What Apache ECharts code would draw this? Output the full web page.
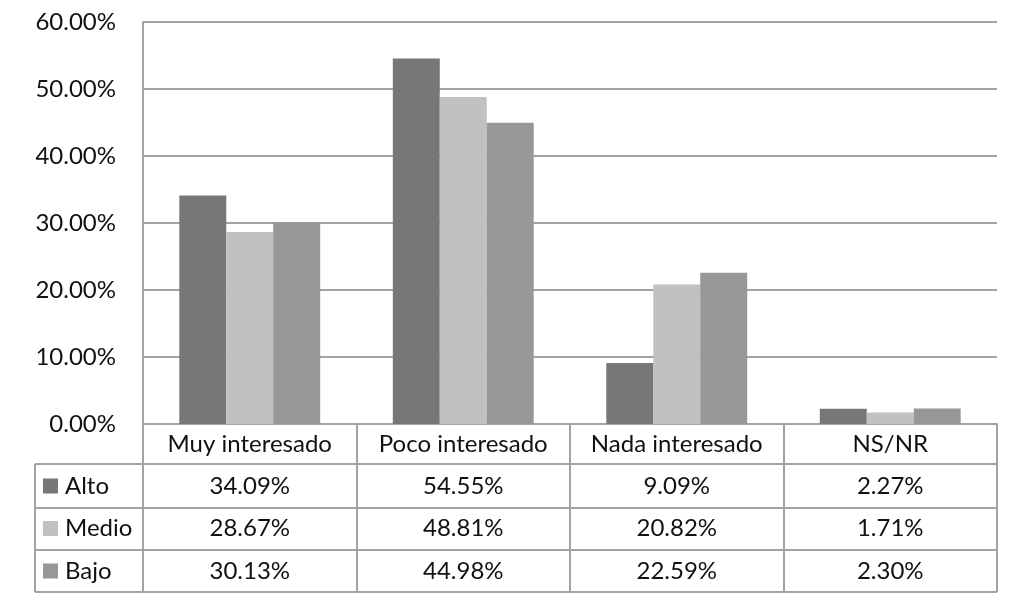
<!DOCTYPE html>
<html><head><meta charset="utf-8">
<script src="https://cdn.jsdelivr.net/npm/echarts@6/dist/echarts.min.js"></script>
<style>html,body{margin:0;padding:0;background:#fff}#c{width:1011px;height:598px}</style>
</head><body><div id="c"></div>
<script>
const categories = ['Muy interesado', 'Poco interesado', 'Nada interesado', 'NS/NR'];
const seriesNames = ['Alto', 'Medio', 'Bajo'];
const alto = [34.09, 54.55, 9.09, 2.27];
const medio = [28.67, 48.81, 20.82, 1.71];
const bajo = [30.13, 44.98, 22.59, 2.30];
const yTicks = [0, 10, 20, 30, 40, 50, 60];
const colors = ['#777777', '#c1c1c1', '#979797'];

const FONT = 'Lato';
const FS = 24;
const GL = 143, GR = 997, GT = 22, G0 = 424;
const rowLines = [464, 508, 550, 592];
const lineColor = '#a3a3a3';
const allData = [alto, medio, bajo];
const fmt = v => v.toFixed(2) + '%';

const chart = echarts.init(document.getElementById('c'), null, {renderer: 'canvas'});
const offsets = [42, 84.5, 127];
const labelStyle = {fontFamily: FONT, fontSize: FS, color: '#111', margin: 8, lineHeight: FS, interval: 0, hideOverlap: false};
const xAxes = [{
  type: 'category', data: categories, position: 'bottom', gridIndex: 0,
  axisLine: {show: true, lineStyle: {color: lineColor, width: 2}},
  axisTick: {show: true, interval: 0, length: 168, lineStyle: {color: lineColor, width: 2}},
  axisLabel: labelStyle
}];
allData.forEach((d, i) => {
  xAxes.push({
    type: 'category', data: d.map(fmt), position: 'bottom', offset: offsets[i], gridIndex: 0,
    axisLine: {show: false}, axisTick: {show: false},
    axisLabel: labelStyle
  });
});

const graphics = [];
rowLines.forEach(y => graphics.push({type: 'line', shape: {x1: 35, y1: y, x2: GR, y2: y}, style: {stroke: lineColor, lineWidth: 2}}));
graphics.push({type: 'line', shape: {x1: 35, y1: rowLines[0], x2: 35, y2: rowLines[3]}, style: {stroke: lineColor, lineWidth: 2}});

chart.setOption({
  animation: false,
  grid: {left: GL, right: 1011 - GR, top: GT, bottom: 598 - G0, containLabel: false},
  legend: {
    data: seriesNames, orient: 'vertical', left: 43, top: 474, icon: 'rect',
    itemWidth: 15, itemHeight: 15, itemGap: 18.5, padding: 0,
    textStyle: {fontFamily: FONT, fontSize: FS, color: '#111', lineHeight: FS, padding: [0, 0, 0, 2]}
  },
  xAxis: xAxes,
  yAxis: {
    type: 'value', min: 0, max: 60, interval: 10,
    axisLine: {show: true, lineStyle: {color: lineColor, width: 2}},
    axisTick: {show: false},
    splitLine: {lineStyle: {color: lineColor, width: 2}},
    axisLabel: {fontFamily: FONT, fontSize: FS, color: '#111', margin: 27,
      formatter: v => yTicks.includes(v) ? v.toFixed(2) + '%' : ''}
  },
  graphic: graphics,
  series: seriesNames.map((n, i) => ({
    name: n, type: 'bar', data: allData[i], xAxisIndex: 0,
    barGap: '0%', barCategoryGap: '34%',
    itemStyle: {color: colors[i]}
  }))
});
</script></body></html>
